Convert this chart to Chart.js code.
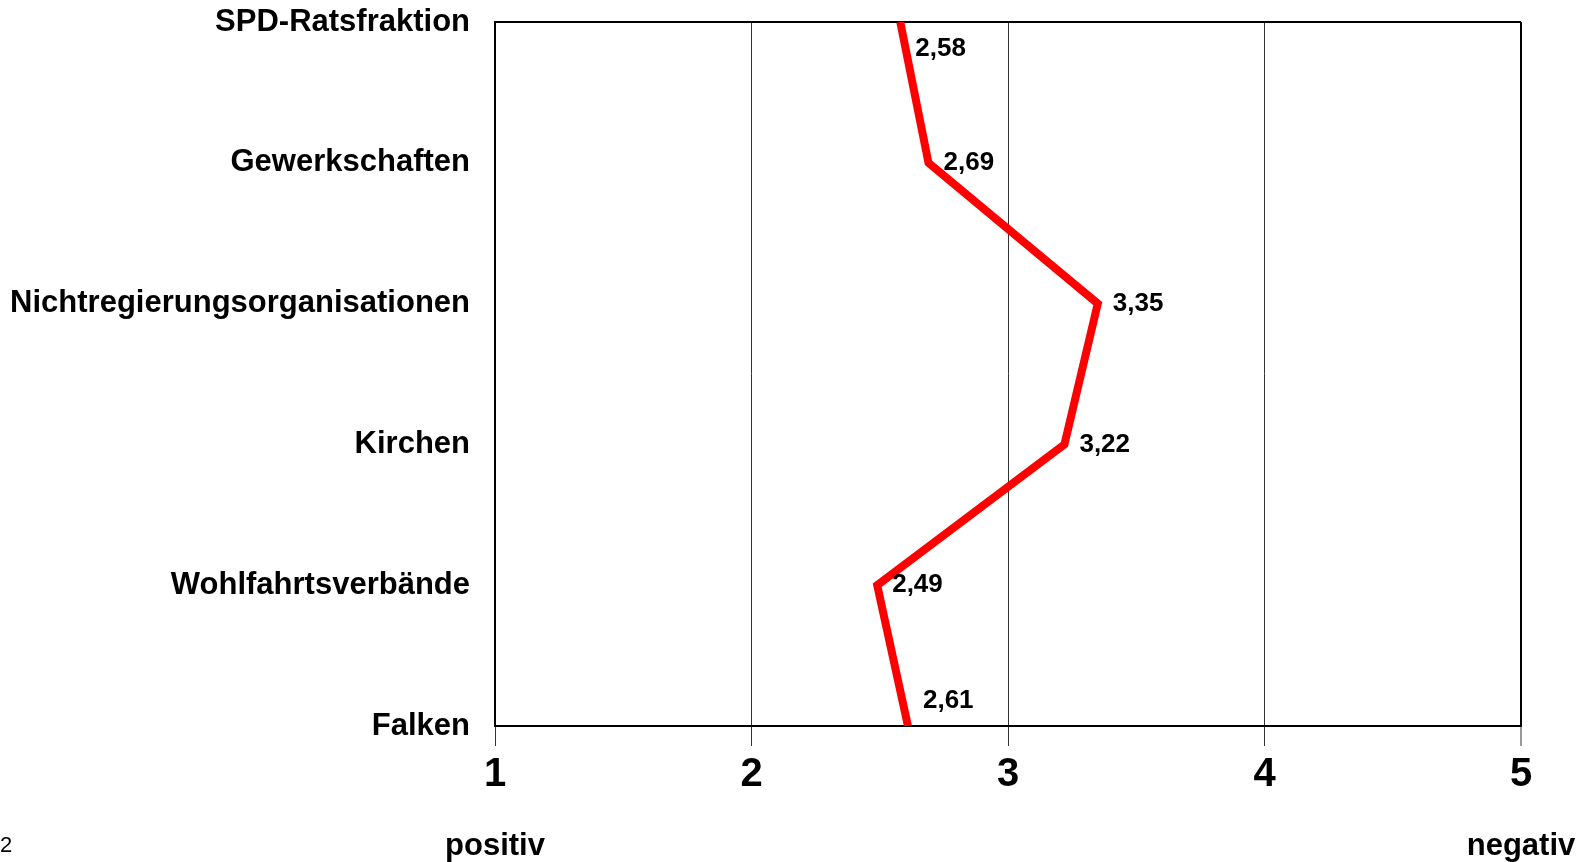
<!DOCTYPE html>
<html>
<head>
<meta charset="utf-8">
<script src="https://cdn.jsdelivr.net/npm/chart.js@4.4.1/dist/chart.umd.min.js"></script>
<style>
  html, body { margin: 0; padding: 0; background: #fff; }
  #wrap { width: 1588px; height: 862px; position: relative; }
</style>
</head>
<body>
<div id="wrap"><canvas id="chart" width="1588" height="862"></canvas></div>
<script>
// ====== Data ======
const categories = ["SPD-Ratsfraktion", "Gewerkschaften", "Nichtregierungsorganisationen", "Kirchen", "Wohlfahrtsverbände", "Falken"];
const ratings = [2.58, 2.69, 3.35, 3.22, 2.49, 2.61];
const scaleMin = 1;
const scaleMax = 5;
const scaleEndLabels = ["positiv", "negativ"];
const pageNumber = "2";

const FONT = "'Liberation Sans', Arial, Helvetica, sans-serif";

function fmt(v) {
  return v.toFixed(2).replace(".", ",");
}

// ====== Value labels next to the points ======
const valueLabels = {
  id: "valueLabels",
  afterDatasetsDraw(chart) {
    const ctx = chart.ctx;
    const meta = chart.getDatasetMeta(0);
    ctx.save();
    ctx.font = "bold 26px " + FONT;
    ctx.fillStyle = "#000";
    ctx.textAlign = "left";
    ctx.textBaseline = "middle";
    meta.data.forEach((pt, i) => {
      let dy = 0;
      if (i === 0) dy = 27;
      if (i === meta.data.length - 1) dy = -25;
      ctx.fillText(fmt(ratings[i]), pt.x + 15, pt.y + dy);
    });
    ctx.restore();
  }
};

// ====== positiv / negativ + page number ======
const endLabels = {
  id: "endLabels",
  afterDraw(chart) {
    const ctx = chart.ctx;
    const x = chart.scales.x;
    ctx.save();
    ctx.fillStyle = "#000";
    ctx.textBaseline = "middle";
    ctx.font = "bold 31px " + FONT;
    ctx.textAlign = "center";
    ctx.fillText(scaleEndLabels[0], x.getPixelForValue(scaleMin), 846);
    ctx.fillText(scaleEndLabels[1], x.getPixelForValue(scaleMax), 846);
    ctx.font = "22px " + FONT;
    ctx.textAlign = "left";
    ctx.fillText(pageNumber, 0, 846);
    ctx.restore();
  }
};

new Chart(document.getElementById("chart"), {
  type: "line",
  data: {
    labels: categories,
    datasets: [{
      data: ratings,
      borderColor: "#ff0000",
      borderWidth: 8,
      borderJoinStyle: "miter",
      pointRadius: 0,
      tension: 0,
      clip: 0
    }]
  },
  options: {
    indexAxis: "y",
    responsive: false,
    animation: false,
    layout: { padding: { top: 0, right: 67, bottom: 58, left: 0 } },
    plugins: { legend: { display: false }, tooltip: { enabled: false } },
    scales: {
      x: {
        type: "linear",
        min: scaleMin,
        max: scaleMax,
        ticks: {
          stepSize: 1,
          color: "#000",
          padding: 5,
          font: { family: FONT, size: 40, weight: "bold" }
        },
        grid: {
          color: c => (c.tick && c.tick.value === scaleMax ? "#000" : "#333"),
          lineWidth: c => (c.tick && c.tick.value === scaleMax ? 2 : 1),
          tickLength: 20,
          tickColor: "#333",
          tickWidth: 1
        },
        border: { display: true, color: "#000", width: 2 }
      },
      y: {
        type: "category",
        offset: false,
        afterFit: s => {
          s.width = 495;
          s.paddingTop = 22;   // plot top sits at the first label
          s.paddingBottom = 0;
        },
        ticks: {
          color: "#000",
          padding: 25,
          font: { family: FONT, size: 31, weight: "bold" }
        },
        grid: {
          color: c => (c.index === 0 ? "#000" : "rgba(0,0,0,0)"),
          lineWidth: 2,
          drawTicks: false
        },
        border: { display: true, color: "#000", width: 2 }
      }
    }
  },
  plugins: [valueLabels, endLabels]
});
</script>
</body>
</html>
